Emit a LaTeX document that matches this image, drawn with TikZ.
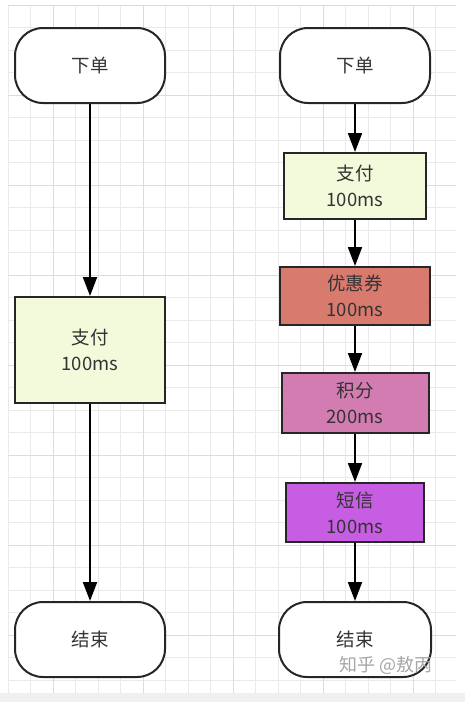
\documentclass[tikz,border=0pt]{standalone}
\usepackage{fontspec}
\setmainfont{Noto Sans CJK SC}
\usetikzlibrary{arrows.meta, positioning}

\definecolor{gridline}{HTML}{EAEAEA}
\definecolor{gridmajor}{HTML}{DCDCDC}
\definecolor{payfill}{HTML}{F3FADC}
\definecolor{couponfill}{HTML}{D97A6F}
\definecolor{pointsfill}{HTML}{D37CB2}
\definecolor{smsfill}{HTML}{C65DE2}

\begin{document}
\begin{tikzpicture}[
            x = 1pt, y = -1pt,
            > = {Triangle[length=19pt, width=14pt]}, % arrow head style
            line width = 2pt, % line style
            node distance = 48pt, % distance between nodes
            font = \fontsize{18.5}{26}\selectfont
        ]

        \tikzstyle{terminal}=[
            draw = black!85,
            fill = white,
            text = black!80,
            rounded corners = 28pt,
            minimum width = 150pt,
            minimum height = 75pt
        ]
        \tikzstyle{task}=[
            draw = black!85,
            text = black!80,
            align = center,
            inner sep = 0pt
        ]

        % background grid
        \useasboundingbox (0,0) rectangle (465,702);
        \fill[black!6] (0,693) rectangle (465,702);
        \foreach \k in {0,...,19}
            \draw[gridline, line width=0.7pt] (8+22.5*\k,5) -- (8+22.5*\k,693);
        \foreach \k in {0,...,30}
            \draw[gridline, line width=0.7pt] (8,5+22.5*\k) -- (456,5+22.5*\k);
        \foreach \k in {2,6,10,14,18}
            \draw[gridmajor, line width=0.8pt] (8+22.5*\k,5) -- (8+22.5*\k,693);
        \foreach \k in {0,4,...,28}
            \draw[gridmajor, line width=0.8pt] (8,5+22.5*\k) -- (456,5+22.5*\k);

        % serial flow
        \node[terminal] (start1) at (90,65.5) {下单};
        \node[task, fill=payfill, minimum width=150pt, minimum height=106pt]
            (pay1) [below=192pt of start1] {支付\\100ms};
        \node[terminal] (end1) [below=197pt of pay1] {结束};

        % parallel flow
        \node[terminal] (start2) at (355,65.5) {下单};
        \node[task, fill=payfill, minimum width=142pt, minimum height=66pt]
            (pay2) [below=of start2] {支付\\100ms};
        \node[task, fill=couponfill, minimum width=150pt, minimum height=58pt]
            (coupon) [below=46pt of pay2] {优惠券\\100ms};
        \node[task, fill=pointsfill, minimum width=147pt, minimum height=60pt]
            (points) [below=46pt of coupon] {积分\\200ms};
        \node[task, fill=smsfill, minimum width=138pt, minimum height=59pt]
            (sms) [below=of points] {短信\\100ms};
        \node[terminal, minimum width=152pt] (end2) [below=58pt of sms] {结束};

        \draw[->] (start1) -- (pay1);
        \draw[->] (pay1) -- (end1);
        \draw[->] (start2) -- (pay2);
        \draw[->] (pay2) -- (coupon);
        \draw[->] (coupon) -- (points);
        \draw[->] (points) -- (sms);
        \draw[->] (sms) -- (end2);

        \node[text=black!35, font=\fontsize{18}{18}\selectfont] (mark) at (386,665) {知乎 @敖丙};

  \end{tikzpicture}
\end{document}
